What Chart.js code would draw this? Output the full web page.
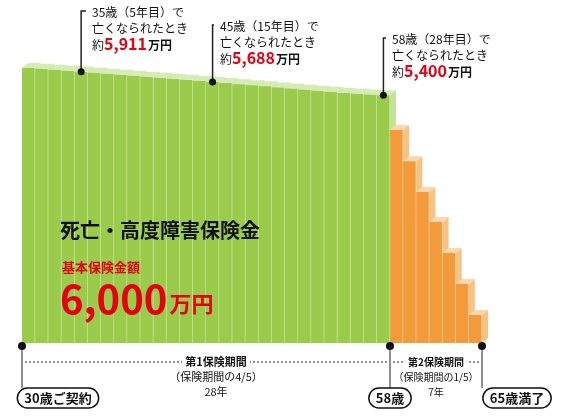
<!DOCTYPE html>
<html><head><meta charset="utf-8">
<script src="https://cdn.jsdelivr.net/npm/chart.js@4"></script>
<style>html,body{margin:0;background:#fff}#wrap{width:575px;height:418px}</style>
</head><body><div id="wrap"><canvas id="c"></canvas></div>
<script>
var years = [];
for (var i = 1; i <= 35; i++) years.push(i + "年目");
var period1 = [5995,5975,5955,5933,5911,5890,5868,5846,5824,5802,5780,5758,5735,5712,5688,5665,5642,5618,5594,5570,5546,5522,5498,5474,5450,5430,5415,5400];
var period2 = [4640,3960,3290,2640,1960,1285,610];
var callouts = [
  { idx: 4, lines: ["35歳（5年目）で", "亡くなられたとき"], amount: "5,911", tx: 92, ty: 17 },
  { idx: 14, lines: ["45歳（15年目）で", "亡くなられたとき"], amount: "5,688", tx: 220, ty: 31 },
  { idx: 27, lines: ["58歳（28年目）で", "亡くなられたとき"], amount: "5,400", tx: 392, ty: 44 }
];
var FONT = "'Noto Sans CJK JP', sans-serif";
var greenData = period1.concat(period2.map(function () { return null; }));
var orangeData = period1.map(function () { return null; }).concat(period2);

function face(ctx, pts, color) {
  ctx.fillStyle = color; ctx.beginPath(); ctx.moveTo(pts[0], pts[1]);
  for (var k = 2; k < pts.length; k += 2) ctx.lineTo(pts[k], pts[k + 1]);
  ctx.closePath(); ctx.fill();
}

var deco = {
  id: "deco",
  beforeDatasetsDraw: function (chart) {
    var ctx = chart.ctx, dx = 6, dy = -5;
    [[0, "#d6ecb8", "#c4e39a"], [1, "#fbd8ac", "#f7c284"]].forEach(function (s) {
      chart.getDatasetMeta(s[0]).data.forEach(function (b) {
        if (b.skip || isNaN(b.y)) return;
        var l = b.x - b.width / 2, r = b.x + b.width / 2;
        face(ctx, [r, b.y, r + dx, b.y + dy, r + dx, b.base + dy, r, b.base], s[2]);
        face(ctx, [l, b.y, l + dx, b.y + dy, r + dx, b.y + dy, r, b.y], s[1]);
      });
    });
  },
  afterDatasetsDraw: function (chart) {
    var ctx = chart.ctx, ca = chart.chartArea, x = chart.scales.x;
    var meta = chart.getDatasetMeta(0);
    ctx.save();
    ctx.textBaseline = "alphabetic";
    callouts.forEach(function (c) {
      var b = meta.data[c.idx];
      ctx.strokeStyle = "#222"; ctx.lineWidth = 1.5;
      ctx.beginPath(); ctx.moveTo(c.tx - 6, c.ty - 6); ctx.lineTo(b.x, c.ty - 6); ctx.lineTo(b.x, b.y); ctx.stroke();
      ctx.fillStyle = "#111"; ctx.beginPath(); ctx.arc(b.x, b.y, 3.5, 0, 7); ctx.fill();
      ctx.font = "12px " + FONT; ctx.textAlign = "left";
      ctx.fillText(c.lines[0], c.tx, c.ty);
      ctx.fillText(c.lines[1], c.tx, c.ty + 16);
      ctx.fillText("約", c.tx, c.ty + 33);
      ctx.font = "bold 16px " + FONT; ctx.fillStyle = "#e60012";
      ctx.fillText(c.amount, c.tx + 12, c.ty + 33);
      var w = ctx.measureText(c.amount).width;
      ctx.font = "bold 12px " + FONT; ctx.fillStyle = "#111";
      ctx.fillText("万円", c.tx + 13 + w, c.ty + 33);
    });
    // main label
    ctx.fillStyle = "#111"; ctx.font = "bold 20px " + FONT;
    ctx.fillText("死亡・高度障害保険金", 60, 238);
    ctx.fillStyle = "#e60012"; ctx.font = "bold 13px " + FONT;
    ctx.fillText("基本保険金額", 62, 272);
    ctx.font = "bold 40px " + FONT;
    ctx.fillText("6,000", 60, 314);
    var w6 = ctx.measureText("6,000").width;
    ctx.font = "bold 22px " + FONT;
    ctx.fillText("万円", 62 + w6, 312);
    // timeline
    var x0 = x.getPixelForValue(0) - meta.data[0].width / 2;
    var x1 = meta.data[27].x + meta.data[27].width / 2;
    var x2 = chart.getDatasetMeta(1).data[34].x + meta.data[0].width / 2;
    var by = ca.bottom;
    ctx.strokeStyle = "#222"; ctx.lineWidth = 1;
    [x0, x1, x2].forEach(function (px) {
      ctx.beginPath(); ctx.moveTo(px, by); ctx.lineTo(px, 388); ctx.stroke();
      ctx.fillStyle = "#111"; ctx.beginPath(); ctx.arc(px, by + 3, 4, 0, 7); ctx.fill();
    });
    ctx.setLineDash([2, 2]);
    ctx.beginPath(); ctx.moveTo(x0 + 3, 362); ctx.lineTo(x1 - 3, 362); ctx.stroke();
    ctx.beginPath(); ctx.moveTo(x1 + 3, 362); ctx.lineTo(x2 - 3, 362); ctx.stroke();
    ctx.setLineDash([]);
    function textCenter(t, cx, y, font, bg) {
      ctx.font = font; var tw = ctx.measureText(t).width;
      if (bg) { ctx.fillStyle = "#fff"; ctx.fillRect(cx - tw / 2 - 3, y - 12, tw + 6, 15); }
      ctx.fillStyle = "#111"; ctx.textAlign = "center"; ctx.fillText(t, cx, y);
    }
    var m1 = (x0 + x1) / 2 + 10, m2 = (x1 + x2) / 2;
    textCenter("第1保険期間", m1, 366, "bold 11px " + FONT, true);
    textCenter("（保険期間の4/5）", m1, 381, "11px " + FONT);
    textCenter("28年", m1, 396, "11px " + FONT);
    textCenter("第2保険期間", m2, 366, "bold 10px " + FONT, true);
    textCenter("（保険期間の1/5）", m2, 381, "10px " + FONT);
    textCenter("7年", m2, 396, "10px " + FONT);
    function pill(t, cx, y) {
      ctx.font = "bold 13px " + FONT; var tw = ctx.measureText(t).width;
      var l = cx - tw / 2 - 7, w = tw + 14, h = 20, t0 = y - 10;
      ctx.fillStyle = "#fff"; ctx.strokeStyle = "#111"; ctx.lineWidth = 1.5;
      ctx.beginPath(); ctx.roundRect(l, t0, w, h, 10); ctx.fill(); ctx.stroke();
      ctx.fillStyle = "#111"; ctx.textAlign = "center"; ctx.fillText(t, cx, y + 5);
    }
    pill("30歳ご契約", 58, 398);
    pill("58歳", x1, 398);
    pill("65歳満了", 517, 398);
    ctx.restore();
  }
};

new Chart(document.getElementById("c"), {
  type: "bar",
  data: { labels: years, datasets: [
    { data: greenData, backgroundColor: "#9acb4a", borderColor: "#c9e6a2", borderWidth: { right: 1 }, borderSkipped: false },
    { data: orangeData, backgroundColor: "#f39a3a", borderColor: "#fbd3a4", borderWidth: { right: 1 }, borderSkipped: false }
  ] },
  options: {
    responsive: true, maintainAspectRatio: false, animation: false,
    layout: { padding: { left: 22, right: 93, top: 20, bottom: 75 } },
    datasets: { bar: { grouped: false, barPercentage: 1, categoryPercentage: 1 } },
    plugins: { legend: { display: false }, tooltip: { enabled: false } },
    scales: { x: { display: false }, y: { display: false, min: 0, max: 7040 } }
  },
  plugins: [deco]
});
</script></body></html>
